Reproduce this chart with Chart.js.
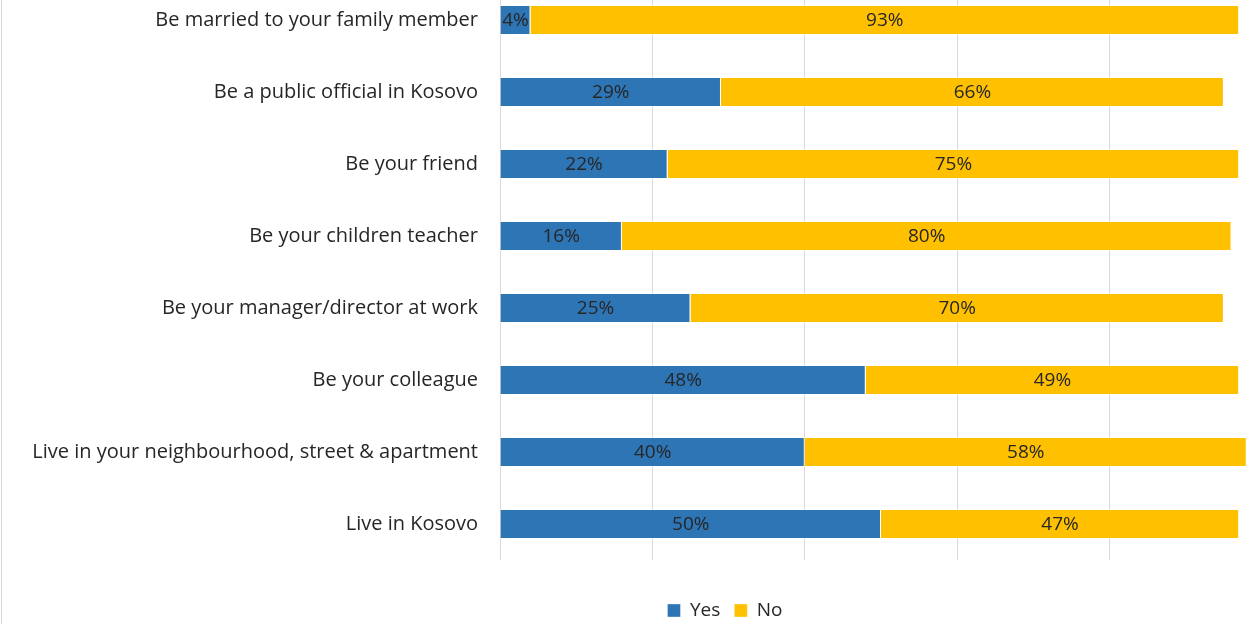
<!DOCTYPE html>
<html>
<head>
<meta charset="utf-8">
<script src="https://cdn.jsdelivr.net/npm/chart.js@4.4.1/dist/chart.umd.min.js"></script>
<style>
  html, body { margin: 0; padding: 0; background: #fff; overflow: hidden; }
  body { width: 1258px; height: 624px; position: relative; }
  #frame { position: absolute; left: 1px; top: 0; width: 1px; height: 624px; background: #d9d9d9; }
  #wrap { position: absolute; left: 0; top: -16px; width: 1264px; height: 650px; }
</style>
</head>
<body>
<div id="frame"></div>
<div id="wrap"><canvas id="chart"></canvas></div>
<script>
const categories = [
  'Be married to your family member',
  'Be a public official in Kosovo',
  'Be your friend',
  'Be your children teacher',
  'Be your manager/director at work',
  'Be your colleague',
  'Live in your neighbourhood, street & apartment',
  'Live in Kosovo'
]
const yesValues = [4, 29, 22, 16, 25, 48, 40, 50]
const noValues = [93, 66, 75, 80, 70, 49, 58, 47]
const seriesNames = ['Yes', 'No']

const FONT = '"Open Sans", "Noto Sans", sans-serif'
const TEXT = '#262626'

// draws the "NN%" text in the middle of each bar segment
const barLabels = {
  id: 'barLabels',
  afterDatasetsDraw(chart) {
    const ctx = chart.ctx
    ctx.save()
    ctx.font = '19px ' + FONT
    ctx.fillStyle = TEXT
    ctx.textAlign = 'center'
    ctx.textBaseline = 'middle'
    chart.data.datasets.forEach((ds, i) => {
      chart.getDatasetMeta(i).data.forEach((bar, j) => {
        let p = bar.getProps(['x', 'y', 'base'], true)
        ctx.fillText(ds.data[j] + '%', (p.x + p.base) / 2, p.y + 1)
      })
    })
    ctx.restore()
  }
}

// shift the legend so it sits where the original has it
const legendShift = {
  id: 'legendShift',
  afterLayout(chart) {
    const lg = chart.legend
    lg.left += 94
    lg.right += 94
  }
}

new Chart(document.getElementById('chart'), {
  type: 'bar',
  data: {
    labels: categories,
    datasets: [
      { label: seriesNames[0], data: yesValues, backgroundColor: '#2E75B6', borderColor: 'rgba(255,255,255,0.35)', borderWidth: 1, barPercentage: 0.83, categoryPercentage: 0.5 },
      { label: seriesNames[1], data: noValues, backgroundColor: '#FFC000', borderColor: 'rgba(255,255,255,0.35)', borderWidth: 1, barPercentage: 0.83, categoryPercentage: 0.5 }
    ]
  },
  options: {
    indexAxis: 'y',
    responsive: true,
    maintainAspectRatio: false,
    animation: false,
    layout: { padding: { left: 0, right: 2, top: 0, bottom: 4 } },
    plugins: {
      tooltip: { enabled: false },
      legend: {
        position: 'bottom',
        labels: {
          color: TEXT,
          font: { family: FONT, size: 19 },
          boxWidth: 13,
          boxHeight: 13,
          padding: 14,
          useBorderRadius: false
        }
      }
    },
    scales: {
      x: {
        stacked: true,
        min: 0,
        max: 100,
        ticks: { display: false, stepSize: 20 },
        grid: { color: '#d9d9d9', lineWidth: 1, drawTicks: false },
        border: { display: false },
        afterFit(scale) { scale.height = 27 }
      },
      y: {
        stacked: true,
        ticks: { color: TEXT, font: { family: FONT, size: 20 }, padding: 14 },
        grid: { display: false },
        border: { display: false },
        afterFit(scale) {
          scale.width = 500
          scale.paddingTop = 0
          scale.paddingBottom = 0
        }
      }
    }
  },
  plugins: [barLabels, legendShift]
})
</script>
</body>
</html>
